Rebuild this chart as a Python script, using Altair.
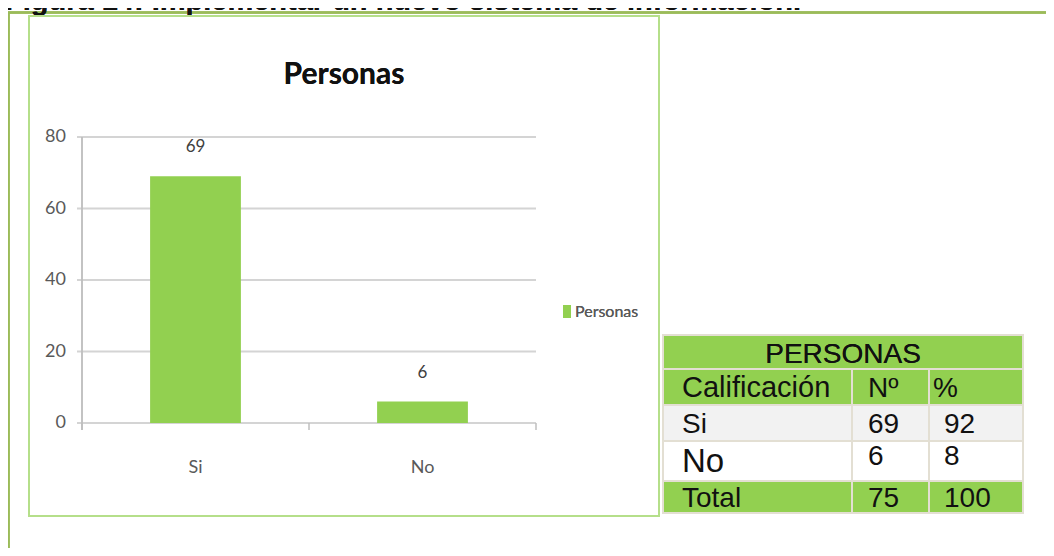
import altair as alt
import pandas as pd

# ---------------- data ----------------
categories = ["Si", "No"]
personas = [69, 6]
y_ticks = [0, 20, 40, 60, 80]
chart_title = "Personas"
series_name = "Personas"
caption = "Figura 14: Implementar un nuevo sistema de información."

table_title = "PERSONAS"
table_header = ["Calificación", "Nº", "%"]
table_labels = ["Si", "No", "Total"]
table_counts = [69, 6, 75]
table_pct = [92, 8, 100]

# ---------------- style / layout ----------------
GREEN = "#92d050"
GRID = "#d4d4d4"
AXIS = "#bfbfbf"
TXT = "#595959"
NARROW = "Lato, Roboto, sans-serif"
ARIAL = "Liberation Sans, Arial, sans-serif"

W, H = 1038, 540
PL, PR, PT, PB = 74, 528, 129, 415  # plot region in view pixels

yscale = alt.Scale(domain=[0, 80], range=[PB, PT], nice=False, zero=True)
xscale = alt.Scale(domain=categories, range=[PL, PR], paddingInner=0.6, paddingOuter=0.3)

bars_df = pd.DataFrame({"cat": categories, "val": personas})
ticks_df = pd.DataFrame({"t": y_ticks})

# frame lines
frame_top = alt.Chart(bars_df).mark_rule(color="#9bbb59", strokeWidth=2.5).encode(
    x=alt.value(0), x2=alt.value(W), y=alt.value(4.5))
frame_left = alt.Chart(bars_df).mark_rule(color="#9bbb59", strokeWidth=2.5).encode(
    x=alt.value(0.5), y=alt.value(4), y2=alt.value(H))
caption_text = alt.Chart(bars_df).mark_text(
    align="left", baseline="alphabetic", font=ARIAL, fontWeight="bold", fontSize=29, color="#111111"
).encode(x=alt.value(-3), y=alt.value(2), text=alt.value(caption))

inner_box = alt.Chart(bars_df).mark_rect(fill="white", stroke="#b5df8a", strokeWidth=2).encode(
    x=alt.value(21), x2=alt.value(651), y=alt.value(8), y2=alt.value(508))

title = alt.Chart(bars_df).mark_text(
    font=NARROW, fontWeight="bold", fontSize=30, color="#111111", baseline="middle"
).encode(x=alt.value(336), y=alt.value(67), text=alt.value(chart_title))

grid = alt.Chart(ticks_df).mark_rule(color=GRID, strokeWidth=2).encode(
    x=alt.value(PL - 5), x2=alt.value(PR),
    y=alt.Y("t:Q", scale=yscale, axis=None))

y_axis_line = alt.Chart(bars_df).mark_rule(color=AXIS, strokeWidth=1.5).encode(
    x=alt.value(PL), y=alt.value(PT), y2=alt.value(PB + 7))

edges_df = pd.DataFrame({"e": [PL, (PL + PR) / 2, PR]})
x_ticks = alt.Chart(edges_df).mark_rule(color=AXIS, strokeWidth=1.5).encode(
    x=alt.X("e:Q", scale=None, axis=None), y=alt.value(PB), y2=alt.value(PB + 7))

bars = alt.Chart(bars_df).mark_bar(color=GREEN).encode(
    x=alt.X("cat:N", scale=xscale, axis=None, sort=categories),
    y=alt.Y("val:Q", scale=yscale, axis=None))

bar_labels = alt.Chart(bars_df).mark_text(
    font=NARROW, fontSize=17, color="#404040", dy=-29, baseline="middle"
).encode(
    x=alt.X("cat:N", scale=xscale, axis=None, sort=categories),
    y=alt.Y("val:Q", scale=yscale, axis=None),
    text="val:Q")

cat_labels = alt.Chart(bars_df).mark_text(
    font=NARROW, fontSize=18, color=TXT, baseline="middle"
).encode(
    x=alt.X("cat:N", scale=xscale, axis=None, sort=categories),
    y=alt.value(460), text="cat:N")

tick_labels = alt.Chart(ticks_df).mark_text(
    font=NARROW, fontSize=18, color=TXT, align="right", baseline="middle"
).encode(
    x=alt.value(58), y=alt.Y("t:Q", scale=yscale, axis=None), text="t:Q")

legend_sym = alt.Chart(bars_df).mark_rect(color=GREEN).encode(
    x=alt.value(555), x2=alt.value(563), y=alt.value(297), y2=alt.value(310))
legend_txt = alt.Chart(bars_df).mark_text(
    font=NARROW, fontSize=16, color=TXT, align="left", baseline="middle"
).encode(x=alt.value(567), y=alt.value(304), text=alt.value(series_name))

# ---------------- table ----------------
C = [655, 844, 921, 1015]            # column edges
R = [327, 361, 397, 433, 473, 505]   # row edges
row_fill = ["#f2f2f2", "#ffffff", GREEN]
text_x = [674, 860, 936]
base_y = [425, 457, 499]
label_fs = [28, 33, 28]
label_y = [425, 464, 499]

cells = [dict(x0=C[0], x1=C[3], y0=R[0], y1=R[1], fill=GREEN)]
for j in range(3):
    cells.append(dict(x0=C[j], x1=C[j + 1], y0=R[1], y1=R[2], fill=GREEN))
for i in range(3):
    for j in range(3):
        cells.append(dict(x0=C[j], x1=C[j + 1], y0=R[2 + i], y1=R[3 + i], fill=row_fill[i]))
cells_df = pd.DataFrame(cells)

texts = []
for j in range(3):
    texts.append(dict(x=text_x[j] if j < 2 else 925, y=389, t=table_header[j], fs=29 if j == 0 else 28))
for i in range(3):
    texts.append(dict(x=text_x[0], y=label_y[i], t=table_labels[i], fs=label_fs[i]))
    texts.append(dict(x=text_x[1], y=base_y[i], t=str(table_counts[i]), fs=28))
    texts.append(dict(x=text_x[2], y=base_y[i], t=str(table_pct[i]), fs=28))
texts_df = pd.DataFrame(texts)

table_cells = alt.Chart(cells_df).mark_rect(stroke="#e3dfd3", strokeWidth=2).encode(
    x=alt.X("x0:Q", scale=None, axis=None), x2="x1:Q",
    y=alt.Y("y0:Q", scale=None, axis=None), y2="y1:Q",
    fill=alt.Fill("fill:N", scale=None, legend=None))

table_texts = alt.Chart(texts_df).mark_text(
    font=ARIAL, color="#111111", align="left", baseline="alphabetic"
).encode(
    x=alt.X("x:Q", scale=None, axis=None),
    y=alt.Y("y:Q", scale=None, axis=None),
    size=alt.Size("fs:Q", scale=None, legend=None),
    text="t:N")

table_head = alt.Chart(bars_df).mark_text(
    font=ARIAL, fontSize=28, color="#111111", align="center", baseline="alphabetic"
).encode(x=alt.value((C[0] + C[3]) / 2), y=alt.value(355), text=alt.value(table_title))

chart = alt.layer(
    frame_top, frame_left, caption_text, inner_box, title,
    grid, y_axis_line, x_ticks, bars, bar_labels, cat_labels, tick_labels,
    legend_sym, legend_txt, table_cells, table_texts, table_head,
).resolve_scale(x="independent", y="independent").properties(
    width=W, height=H, padding=0, autosize=alt.AutoSizeParams(type="none"),
    background="white",
).configure_view(stroke=None)

chart.save("out.html", embed_options={"renderer": "svg", "actions": False})
